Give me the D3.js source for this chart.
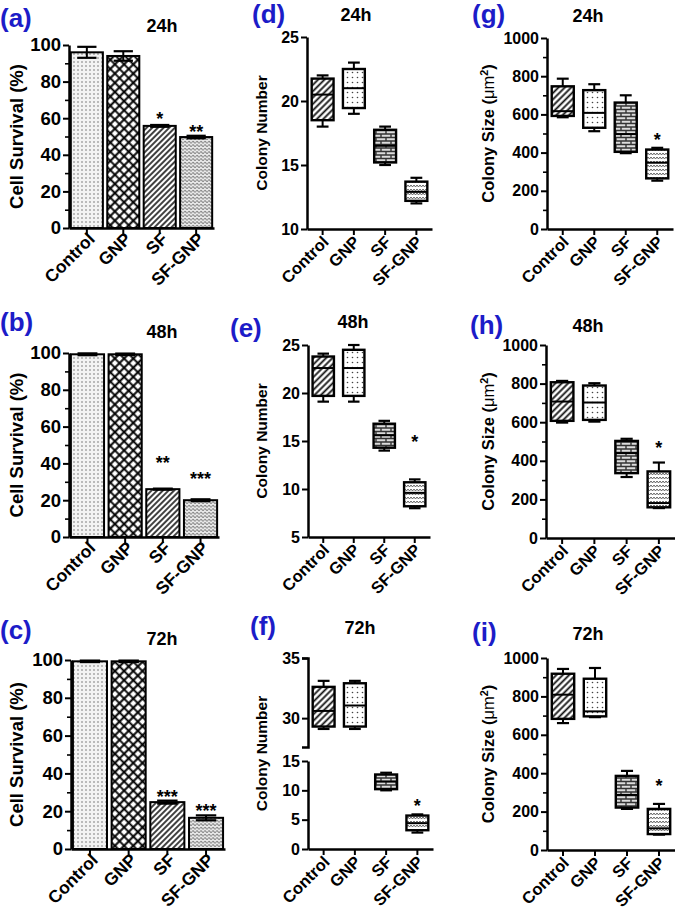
<!DOCTYPE html>
<html>
<head>
<meta charset="utf-8">
<script src="https://cdn.jsdelivr.net/npm/d3@7"></script>
<style>
  body { margin: 0; background: #fff; }
  svg text { font-family: "Liberation Sans", Arial, sans-serif; font-weight: bold; fill: #000; }
</style>
</head>
<body>
<svg id="fig" width="675" height="912"></svg>
<script>
const groups = ['Control', 'GNP', 'SF', 'SF-GNP'];
const hours = ['24h', '48h', '72h'];

// cell survival (%) : mean and error
const survival24 = [96, 94, 55.8, 49.7];
const survivalErr24 = [3, 2.6, 0.5, 0.7];
const survival48 = [99.3, 99.3, 26, 20];
const survivalErr48 = [0.5, 0.4, 0.3, 0.5];
const survival72 = [99.3, 99.3, 24.8, 16.5];
const survivalErr72 = [0.4, 0.4, 0.8, 1.3];
const survivalStars24 = ['', '', '*', '**'];
const survivalStars48 = ['', '', '**', '***'];
const survivalStars72 = ['', '', '***', '***'];
const survivalStarAt24 = [0, 0, 62, 55];
const survivalStarAt48 = [0, 0, 43, 34];
const survivalStarAt72 = [0, 0, 30, 22.5];
const survivalTicks = [0, 20, 40, 60, 80, 100];
const survivalMinor = [10, 30, 50, 70, 90];

// box plots : [min, q1, median, q3, max]
const colonyNum24 = [[18, 18.5, 20.5, 21.75, 22], [19, 19.45, 21, 22.5, 23], [15, 15.2, 16.5, 17.75, 18], [12, 12.2, 12.9, 13.7, 14]];
const colonyNum48 = [[19.1, 19.7, 22.6, 23.8, 24.1], [19.1, 19.7, 22.6, 24.5, 25], [14, 14.3, 15.6, 16.8, 17.1], [8, 8.2, 9.6, 10.7, 11]];
const colonyNum72 = [[29.1, 29.3, 30.6, 32.6, 33.1], [29.1, 29.3, 31.05, 32.9, 33.1], [10, 10.2, 11.5, 12.7, 13], [2.8, 3.2, 4.4, 5.7, 5.9]];
const colonySize24 = [[585, 592, 617, 747, 787], [512, 530, 608, 727, 758], [397, 404, 497, 662, 700], [253, 265, 347, 416, 425]];
const colonySize48 = [[598, 607, 707, 807, 814], [603, 612, 702, 790, 802], [316, 336, 440, 503, 514], [155, 159, 181, 345, 391]];
const colonySize72 = [[661, 683, 809, 918, 943], [692, 696, 722, 892, 948], [214, 221, 287, 386, 412], [80, 83, 113, 214, 240]];
const colonyNumStarAt = [null, 15.4, 8.2];
const colonySizeStarAt = [490, 490, 357];
const colonyNumTicks24 = [10, 15, 20, 25];
const colonyNumTicks48 = [5, 10, 15, 20, 25];
const colonyNumTicks72Top = [30, 35];
const colonyNumTicks72Low = [0, 5, 10, 15];
const colonySizeTicks = [0, 200, 400, 600, 800, 1000];
const colonySizeMinor = [100, 300, 500, 700, 900];

const svg = d3.select('#fig');
const defs = svg.append('defs');

function pattern(id, w, h, bg, transform) {
  const p = defs.append('pattern').attr('id', id)
      .attr('patternUnits', 'userSpaceOnUse')
      .attr('width', w).attr('height', h);
  if (transform) p.attr('patternTransform', transform);
  p.append('rect').attr('width', w).attr('height', h).attr('fill', bg);
  return p;
}

// bar fills
pattern('barDots', 4, 4, '#f3f3f3')
    .append('circle').attr('cx', 2).attr('cy', 2).attr('r', 0.75).attr('fill', '#666');
pattern('barCross', 6.5, 6.5, '#fff', 'rotate(45)')
    .append('path').attr('d', 'M0,3.25H6.5M3.25,0V6.5').attr('stroke', '#000').attr('stroke-width', 2);
pattern('barHatch', 4, 4, '#fff', 'rotate(45)')
    .append('path').attr('d', 'M2,0V4').attr('stroke', '#111').attr('stroke-width', 1.6);
pattern('barWave', 4, 3.5, '#e9e9e9')
    .append('path').attr('d', 'M0,2.2Q1,0.6 2,2.2T4,2.2').attr('fill', 'none').attr('stroke', '#6a6a6a').attr('stroke-width', 0.9);
// box fills
pattern('boxHatch', 4.5, 4.5, '#fff', 'rotate(45)')
    .append('path').attr('d', 'M2.25,0V4.5').attr('stroke', '#111').attr('stroke-width', 1.8);
pattern('boxDots', 5, 5, '#fff')
    .append('circle').attr('cx', 2.5).attr('cy', 2.5).attr('r', 0.8).attr('fill', '#444');
pattern('boxBrick', 10, 7, '#dcdcdc')
    .append('path').attr('d', 'M0,1H10M0,4.5H10M1,1V4.5M6,4.5V7M6,0V1').attr('stroke', '#333').attr('stroke-width', 1.4);
pattern('boxWave', 6, 4, '#fff')
    .append('path').attr('d', 'M0,1L1.5,3L3,1L4.5,3L6,1').attr('fill', 'none').attr('stroke', '#555').attr('stroke-width', 0.9);

const barFills = ['barDots', 'barCross', 'barHatch', 'barWave'];
const boxFills = ['boxHatch', 'boxDots', 'boxBrick', 'boxWave'];

function yAxis(g, y, x0, major, minor, fs, outer) {
  const ax = g.append('g').attr('transform', `translate(${x0},0)`)
      .call(d3.axisLeft(y).tickValues(major).tickFormat(d3.format('d'))
        .tickSize(6).tickSizeOuter(outer || 0).tickPadding(2));
  ax.select('.domain').attr('stroke-width', 2.5);
  ax.selectAll('.tick line').attr('stroke-width', 2);
  ax.selectAll('.tick text').style('font-size', fs + 'px');
  if (minor) {
    const mi = g.append('g').attr('transform', `translate(${x0},0)`)
        .call(d3.axisLeft(y).tickValues(minor).tickSize(4).tickFormat(''));
    mi.select('.domain').remove();
    mi.selectAll('.tick line').attr('stroke-width', 1.6);
  }
}

function xAxis(g, x, y0, fs, shift) {
  const ax = g.append('g').attr('transform', `translate(0,${y0})`)
      .call(d3.axisBottom(x).tickSize(6).tickSizeOuter(0));
  ax.select('.domain').attr('stroke-width', 2.5);
  ax.selectAll('.tick line').attr('stroke-width', 2);
  ax.selectAll('.tick text')
      .attr('y', 0).attr('dy', 0)
      .attr('transform', `translate(${shift[0]},${shift[1]}) rotate(-45)`)
      .style('text-anchor', 'end')
      .style('font-size', fs + 'px');
}

function frame(g, p) {
  g.append('text').attr('x', p.letterX).attr('y', p.letterY)
      .style('font-size', '26px').style('fill', '#1c1cc8').text(p.letter);
  g.append('text').attr('x', p.titleX).attr('y', p.titleY)
      .attr('text-anchor', 'middle').style('font-size', '18px').text(p.title);
  const lab = g.append('text')
      .attr('transform', `translate(${p.labelX},${p.labelY}) rotate(-90)`)
      .attr('text-anchor', 'middle').style('font-size', p.labelFs + 'px');
  if (p.label === 'size') {
    lab.append('tspan').text('Colony Size (');
    lab.append('tspan').style('font-weight', 'normal').text('\u03bcm');
    lab.append('tspan').attr('baseline-shift', 'super').style('font-size', '65%').text('2');
    lab.append('tspan').text(')');
  } else {
    lab.text(p.label);
  }
}

function barPanel(p) {
  const g = svg.append('g');
  const x = d3.scaleBand().domain(groups).range([p.left, p.right]).paddingInner(0.12).paddingOuter(0.05);
  const y = d3.scaleLinear().domain([0, 100]).range([p.bottom, p.top]);
  const bw = x.bandwidth();
  const rows = groups.map((k, i) => ({ k, v: p.values[i], e: p.errs[i], s: p.stars[i], sy: p.starAt[i], f: barFills[i] }));

  g.selectAll('rect.bar').data(rows).join('rect')
      .attr('x', d => x(d.k)).attr('y', d => y(d.v))
      .attr('width', bw).attr('height', d => y(0) - y(d.v))
      .attr('fill', d => `url(#${d.f})`).attr('stroke', '#000').attr('stroke-width', 2);

  const eb = g.selectAll('g.err').data(rows).join('g');
  eb.append('line')
      .attr('x1', d => x(d.k) + bw / 2).attr('x2', d => x(d.k) + bw / 2)
      .attr('y1', d => y(d.v - d.e)).attr('y2', d => y(d.v + d.e))
      .attr('stroke', '#000').attr('stroke-width', 2);
  [-1, 1].forEach(sg => {
    eb.append('line')
        .attr('x1', d => x(d.k) + bw * 0.2).attr('x2', d => x(d.k) + bw * 0.8)
        .attr('y1', d => y(d.v + sg * d.e)).attr('y2', d => y(d.v + sg * d.e))
        .attr('stroke', '#000').attr('stroke-width', 2.2);
  });

  g.selectAll('text.star').data(rows.filter(d => d.s)).join('text')
      .attr('x', d => x(d.k) + bw / 2).attr('y', d => y(d.sy) + 0.59 * 18)
      .attr('text-anchor', 'middle').style('font-size', '18px').text(d => d.s);

  yAxis(g, y, p.left, survivalTicks, survivalMinor, 18.5);
  xAxis(g, x, p.bottom, 17.5, [9, 12]);
  frame(g, Object.assign({ label: 'Cell Survival (%)', labelX: 23, labelY: (p.top + p.bottom) / 2, labelFs: 18.5 }, p));
}

function drawBoxes(g, x, yOf, data, starIdx, starAt) {
  const bw = x.bandwidth();
  const rows = groups.map((k, i) => ({ k, b: data[i], f: boxFills[i], y: yOf(i) }));
  const bx = g.selectAll('g.box').data(rows).join('g');
  const cx = d => x(d.k) + bw / 2;
  bx.append('line').attr('x1', cx).attr('x2', cx)
      .attr('y1', d => d.y(d.b[0])).attr('y2', d => d.y(d.b[4]))
      .attr('stroke', '#000').attr('stroke-width', 2);
  [0, 4].forEach(j => {
    bx.append('line')
        .attr('x1', d => cx(d) - bw * 0.27).attr('x2', d => cx(d) + bw * 0.27)
        .attr('y1', d => d.y(d.b[j])).attr('y2', d => d.y(d.b[j]))
        .attr('stroke', '#000').attr('stroke-width', 2.2);
  });
  bx.append('rect')
      .attr('x', d => x(d.k)).attr('y', d => d.y(d.b[3]))
      .attr('width', bw).attr('height', d => d.y(d.b[1]) - d.y(d.b[3]))
      .attr('fill', d => `url(#${d.f})`).attr('stroke', '#000').attr('stroke-width', 2.4);
  bx.append('line')
      .attr('x1', d => x(d.k)).attr('x2', d => x(d.k) + bw)
      .attr('y1', d => d.y(d.b[2])).attr('y2', d => d.y(d.b[2]))
      .attr('stroke', '#000').attr('stroke-width', 2);
  if (starAt != null) {
    g.append('text').attr('x', x(groups[starIdx]) + bw / 2)
        .attr('y', yOf(starIdx)(starAt) + 0.59 * 18)
        .attr('text-anchor', 'middle').style('font-size', '18px').text('*');
  }
}

function boxPanel(p) {
  const g = svg.append('g');
  const x = d3.scaleBand().domain(groups).range([p.left, p.right]).paddingInner(0.3).paddingOuter(0.15);
  let yOf;
  if (p.broken) {
    const yTop = d3.scaleLinear().domain([27.6, 35]).range([p.breakTop, p.top]);
    const yLow = d3.scaleLinear().domain([0, 15]).range([p.bottom, p.breakLow]);
    yOf = i => (i < 2 ? yTop : yLow);
    yAxis(g, yTop, p.left, colonyNumTicks72Top, null, 16, 6);
    yAxis(g, yLow, p.left, colonyNumTicks72Low, null, 16);
  } else {
    const y = d3.scaleLinear().domain(p.domain).range([p.bottom, p.top]);
    yOf = () => y;
    yAxis(g, y, p.left, p.ticks, p.minor, 16);
  }
  drawBoxes(g, x, yOf, p.data, 3, p.starAt);
  xAxis(g, x, p.bottom, 16.5, [7, 14]);
  frame(g, Object.assign({ labelY: (p.top + p.bottom) / 2 }, p));
}

barPanel({ values: survival24, errs: survivalErr24, stars: survivalStars24, starAt: survivalStarAt24,
  left: 69, right: 214, top: 45, bottom: 228,
  letter: '(a)', letterX: 0, letterY: 27, title: hours[0], titleX: 162, titleY: 32 });
barPanel({ values: survival48, errs: survivalErr48, stars: survivalStars48, starAt: survivalStarAt48,
  left: 69, right: 219, top: 353, bottom: 537,
  letter: '(b)', letterX: 0, letterY: 331, title: hours[1], titleX: 162, titleY: 338 });
barPanel({ values: survival72, errs: survivalErr72, stars: survivalStars72, starAt: survivalStarAt72,
  left: 71, right: 225, top: 660, bottom: 849,
  letter: '(c)', letterX: 0, letterY: 639, title: hours[2], titleX: 162, titleY: 645 });

boxPanel({ data: colonyNum24, domain: [10, 25], ticks: colonyNumTicks24, starAt: colonyNumStarAt[0],
  left: 307, right: 432, top: 37, bottom: 229,
  letter: '(d)', letterX: 252, letterY: 23, title: hours[0], titleX: 356, titleY: 21,
  label: 'Colony Number', labelX: 267, labelFs: 15.5 });
boxPanel({ data: colonyNum48, domain: [5, 25], ticks: colonyNumTicks48, starAt: colonyNumStarAt[1],
  left: 308, right: 430, top: 345, bottom: 537,
  letter: '(e)', letterX: 230, letterY: 337, title: hours[1], titleX: 353, titleY: 328,
  label: 'Colony Number', labelX: 267, labelFs: 15.5 });
boxPanel({ data: colonyNum72, broken: true, starAt: colonyNumStarAt[2],
  left: 308, right: 433, top: 658, breakTop: 747, breakLow: 761, bottom: 849,
  letter: '(f)', letterX: 250, letterY: 635, title: hours[2], titleX: 360, titleY: 634,
  label: 'Colony Number', labelX: 267, labelFs: 15.5 });

boxPanel({ data: colonySize24, domain: [0, 1000], ticks: colonySizeTicks, minor: colonySizeMinor, starAt: colonySizeStarAt[0],
  left: 547, right: 673, top: 38, bottom: 229,
  letter: '(g)', letterX: 472, letterY: 23, title: hours[0], titleX: 588, titleY: 22,
  label: 'size', labelX: 494, labelFs: 16.5 });
boxPanel({ data: colonySize48, domain: [0, 1000], ticks: colonySizeTicks, minor: colonySizeMinor, starAt: colonySizeStarAt[1],
  left: 546, right: 675, top: 345, bottom: 538,
  letter: '(h)', letterX: 470, letterY: 334, title: hours[1], titleX: 588, titleY: 332,
  label: 'size', labelX: 494, labelFs: 16.5 });
boxPanel({ data: colonySize72, domain: [0, 1000], ticks: colonySizeTicks, minor: colonySizeMinor, starAt: colonySizeStarAt[2],
  left: 547, right: 675, top: 658, bottom: 850,
  letter: '(i)', letterX: 472, letterY: 641, title: hours[2], titleX: 588, titleY: 640,
  label: 'size', labelX: 494, labelFs: 16.5 });
</script>
</body>
</html>
